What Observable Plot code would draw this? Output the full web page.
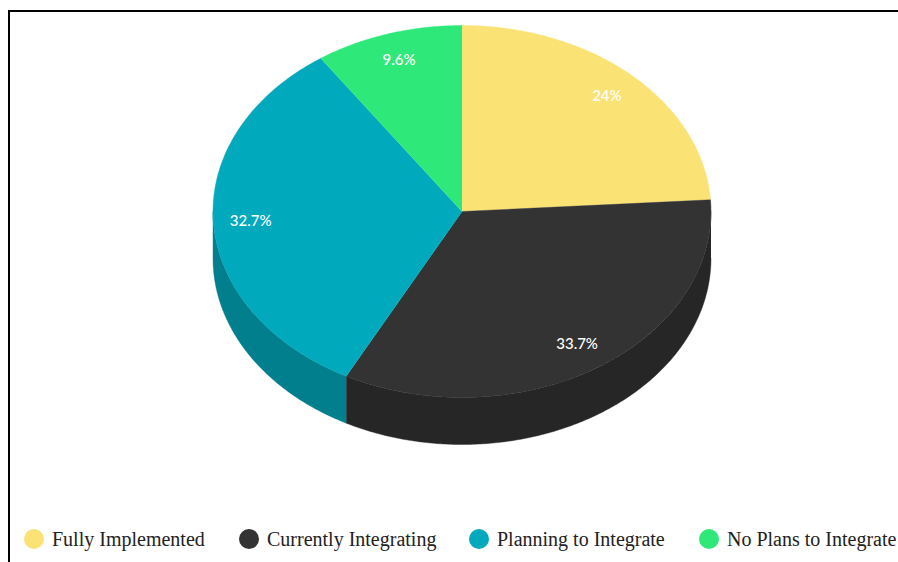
<!DOCTYPE html>
<html>
<head>
<meta charset="utf-8">
<script src="https://cdn.jsdelivr.net/npm/d3@7"></script>
<script src="https://cdn.jsdelivr.net/npm/@observablehq/plot@0.6"></script>
<style>
  html, body { margin: 0; padding: 0; background: #fff; overflow: hidden; }
  #page { position: relative; width: 898px; height: 562px; overflow: hidden; }
  #frame { position: absolute; left: 8px; top: 10px; right: -4px; bottom: -4px;
           border-top: 2px solid #000; border-left: 2px solid #000; pointer-events: none; }
  #chart { position: absolute; left: 0; top: 0; }
  #legend { position: absolute; left: 0; top: 527px; height: 24px; width: 898px;
            font: 20px "Liberation Serif", serif; color: #222; }
  #legend span { position: absolute; top: 0; line-height: 24px; white-space: nowrap; }
  #legend i { position: absolute; top: 2px; width: 20px; height: 20px; border-radius: 50%; }
</style>
</head>
<body>
<div id="page">
  <div id="chart"></div>
  <div id="legend"></div>
  <div id="frame"></div>
</div>
<script>
// Integration status shares, in percent
const categories = ["Fully Implemented", "Currently Integrating", "Planning to Integrate", "No Plans to Integrate"];
const shares = [24, 33.7, 32.7, 9.6];
const labels = ["24%", "33.7%", "32.7%", "9.6%"];
const colors = ["#fbe274", "#333333", "#01a9bc", "#2ee879"];
const legendLeft = [24, 239, 469, 699];

const shade = 0.75;        // side walls are a darker tone of the top face
const depth = 47 / 186;    // wall height in units of the pie's vertical radius
const labelRadius = 0.85;

const total = d3.sum(shares);
const turn = 2 * Math.PI;
const ends = d3.cumsum(shares).map((v) => (v / total) * turn);
const starts = ends.map((_, i) => (i ? ends[i - 1] : 0));

// Point on the rim at angle t, measured clockwise from the top
const rim = (t, drop = 0) => ({ x: Math.sin(t), y: Math.cos(t) - drop });

function arc(t0, t1, drop = 0) {
  const n = Math.max(2, Math.ceil((t1 - t0) / 0.01));
  return d3.range(n + 1).map((k) => rim(t0 + ((t1 - t0) * k) / n, drop));
}

const face = (i) => [{ x: 0, y: 0 }, ...arc(starts[i], ends[i])];

// Only the front half of the rim (a quarter to three quarters of a turn) shows a wall
function wall(i) {
  const t0 = Math.max(starts[i], turn / 4);
  const t1 = Math.min(ends[i], (3 * turn) / 4);
  if (t1 <= t0) return [];
  return [...arc(t0, t1), ...arc(t0, t1, depth).reverse()];
}

function darker(c) {
  const { r, g, b } = d3.rgb(c);
  return d3.rgb(r * shade, g * shade, b * shade).formatHex();
}

const labelData = labels.map((text, i) => {
  const mid = (starts[i] + ends[i]) / 2;
  return { text, x: labelRadius * Math.sin(mid), y: labelRadius * Math.cos(mid) };
});

const fillProps = (fill) => ({ x: "x", y: "y", fill, stroke: fill, strokeWidth: 0.4 });

const plot = Plot.plot({
  width: 898,
  height: 510,
  margin: 0,
  style: { background: "transparent" },
  x: { domain: [-1, 1], range: [212.5, 710.5], axis: null },
  y: { domain: [-1, 1], range: [397, 25], axis: null },
  marks: [
    ...categories.map((_, i) => Plot.line(wall(i), fillProps(darker(colors[i])))),
    ...categories.map((_, i) => Plot.line(face(i), fillProps(colors[i]))),
    Plot.text(labelData, {
      x: "x",
      y: "y",
      text: "text",
      fill: "#fff",
      fontFamily: "Lato, sans-serif",
      fontSize: 15,
      fontWeight: 500
    })
  ]
});
document.getElementById("chart").append(plot);

// Legend row under the pie
const legend = document.getElementById("legend");
categories.forEach((name, i) => {
  const dot = document.createElement("i");
  dot.style.left = legendLeft[i] + "px";
  dot.style.background = colors[i];
  const text = document.createElement("span");
  text.style.left = legendLeft[i] + 28 + "px";
  text.textContent = name;
  legend.append(dot, text);
});
</script>
</body>
</html>
